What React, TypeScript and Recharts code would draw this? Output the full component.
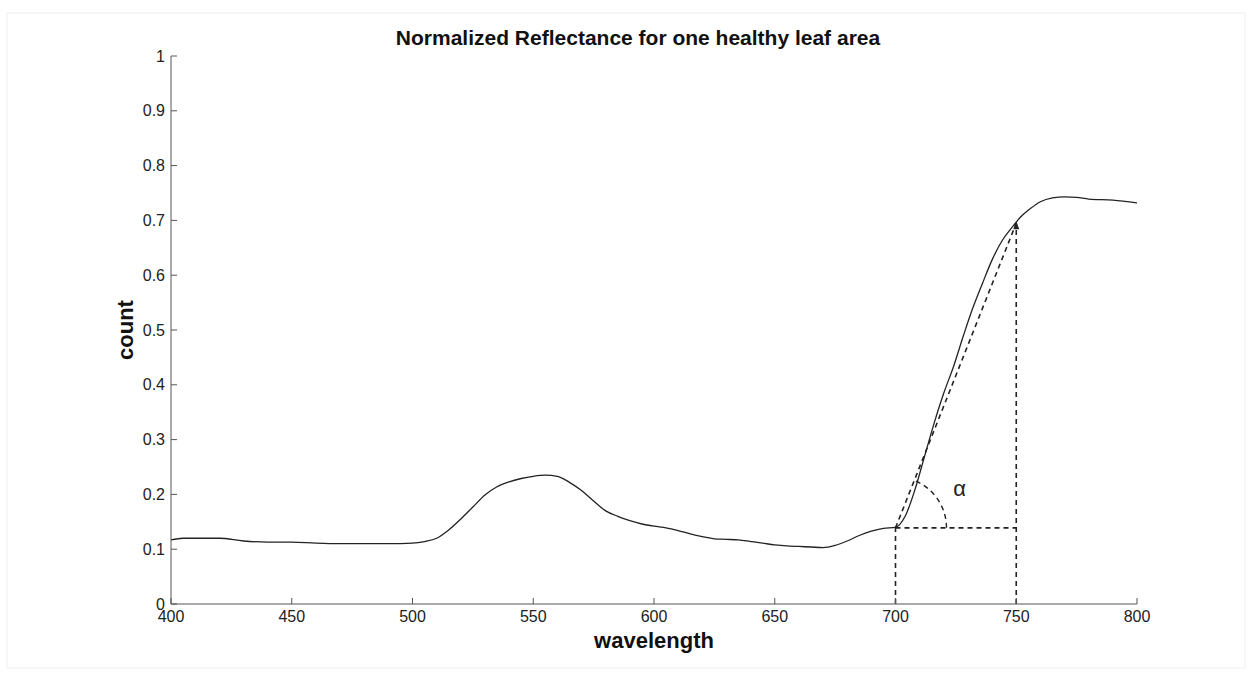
import {
  LineChart,
  Line,
  XAxis,
  YAxis,
  ReferenceLine,
  ReferenceDot,
} from "recharts";

// Leaf reflectance spectrum, normalized
const wavelengths = [
  400, 405, 410, 420, 430, 440, 450, 460, 470, 480, 490, 500, 505, 510, 515,
  520, 525, 530, 535, 540, 545, 550, 555, 560, 565, 570, 575, 580, 585, 590,
  595, 600, 605, 610, 615, 620, 625, 630, 635, 640, 645, 650, 655, 660, 665,
  670, 675, 680, 685, 690, 695, 700, 704, 708, 712, 716, 720, 724, 728, 732,
  736, 740, 744, 748, 752, 756, 760, 765, 770, 775, 780, 790, 800,
];
const reflectance = [
  0.117, 0.12, 0.12, 0.12, 0.115, 0.113, 0.113, 0.111, 0.11, 0.11, 0.11, 0.111,
  0.114, 0.12, 0.135, 0.155, 0.177, 0.199, 0.214, 0.223, 0.229, 0.233, 0.235,
  0.233, 0.222, 0.207, 0.188, 0.17, 0.16, 0.152, 0.146, 0.142, 0.139, 0.134,
  0.128, 0.123, 0.119, 0.118, 0.117, 0.114, 0.111, 0.108, 0.106, 0.105, 0.104,
  0.103, 0.107, 0.115, 0.125, 0.133, 0.138, 0.14, 0.16, 0.208, 0.269, 0.33,
  0.385, 0.433, 0.488, 0.54, 0.585, 0.628, 0.662, 0.686, 0.707, 0.722, 0.734,
  0.741, 0.743, 0.742, 0.739, 0.737, 0.732,
];

const xTicks = [400, 450, 500, 550, 600, 650, 700, 750, 800];
const yTicks = [0, 0.1, 0.2, 0.3, 0.4, 0.5, 0.6, 0.7, 0.8, 0.9, 1];

// red-edge slope construction
const edgeStart = { x: 700, y: 0.139 };
const edgeEnd = { x: 750, y: 0.695 };

const data = wavelengths.map((wl, i) => ({ wl, r: reflectance[i] }));

const W = 1251;
const H = 675;
const margin = { top: 56, right: 114, bottom: 41, left: 111 };
const Y_AXIS_W = 60;
const X_AXIS_H = 30;
const plotW = W - margin.left - Y_AXIS_W - margin.right;
const plotH = H - margin.top - margin.bottom - X_AXIS_H;

const font = "'Liberation Sans', Arial, sans-serif";
const ink = "#222";
const axisColor = "#555";
const dash = "5 4";

function AngleArc(props: any) {
  const { cx, cy } = props;
  if (cx == null || cy == null) return null;
  const dxPx = ((edgeEnd.x - edgeStart.x) / 400) * plotW;
  const dyPx = (edgeEnd.y - edgeStart.y) * plotH;
  const ang = Math.atan2(dyPx, dxPx);
  const r = 51;
  const ex = cx + r * Math.cos(ang);
  const ey = cy - r * Math.sin(ang);
  return (
    <g>
      <path
        d={`M ${cx + r} ${cy} A ${r} ${r} 0 0 0 ${ex} ${ey}`}
        fill="none"
        stroke={ink}
        strokeWidth={1.4}
        strokeDasharray={dash}
      />
      <text
        x={cx + 64}
        y={cy - 32}
        fontFamily={font}
        fontSize={22}
        fill={ink}
        textAnchor="middle"
      >
        α
      </text>
    </g>
  );
}

function ArrowTip(props: any) {
  const { cx, cy } = props;
  if (cx == null || cy == null) return null;
  return (
    <path d={`M ${cx} ${cy - 2} L ${cx - 3} ${cy + 6} L ${cx + 3} ${cy + 6} Z`} fill={ink} />
  );
}

export default function App() {
  return (
    <div style={{ position: "absolute", left: 0, top: 0, width: W, height: H, background: "#fff" }}>
      <svg width={W} height={H} style={{ position: "absolute", left: 0, top: 0 }}>
        <rect x={7} y={13} width={1238} height={655} fill="none" stroke="#eee" strokeWidth={1} />
        <text
          x={638}
          y={45}
          textAnchor="middle"
          fontFamily={font}
          fontWeight="bold"
          fontSize={21}
          fill="#111"
        >
          Normalized Reflectance for one healthy leaf area
        </text>
      </svg>
      <div style={{ position: "absolute", left: 0, top: 0 }}>
        <LineChart width={W} height={H} data={data} margin={margin}>
          <XAxis
            dataKey="wl"
            type="number"
            domain={[400, 800]}
            ticks={xTicks}
            interval={0}
            height={X_AXIS_H}
            tickSize={-6}
            tickMargin={13}
            stroke={axisColor}
            tick={{ fill: ink, fontSize: 16, fontFamily: font }}
            label={{
              value: "wavelength",
              position: "insideBottom",
              offset: -14,
              style: { fontFamily: font, fontSize: 22, fontWeight: "bold", fill: "#111" },
            }}
          />
          <YAxis
            type="number"
            domain={[0, 1]}
            ticks={yTicks}
            interval={0}
            width={Y_AXIS_W}
            tickSize={-6}
            tickMargin={12}
            stroke={axisColor}
            tickFormatter={(v: number) => String(Math.round(v * 10) / 10)}
            tick={{ fill: ink, fontSize: 16, fontFamily: font }}
            label={{
              value: "count",
              angle: -90,
              position: "insideLeft",
              offset: 14,
              style: { fontFamily: font, fontSize: 22, fontWeight: "bold", fill: "#111", textAnchor: "middle" },
            }}
          />
          <Line
            type="monotone"
            dataKey="r"
            stroke={ink}
            strokeWidth={1.3}
            dot={false}
            isAnimationActive={false}
          />
          <ReferenceLine
            segment={[{ x: edgeStart.x, y: 0 }, edgeStart]}
            stroke={ink}
            strokeWidth={1.6}
            strokeDasharray={dash}
          />
          <ReferenceLine
            segment={[{ x: edgeEnd.x, y: 0 }, edgeEnd]}
            stroke={ink}
            strokeWidth={1.6}
            strokeDasharray={dash}
          />
          <ReferenceLine
            segment={[edgeStart, { x: edgeEnd.x, y: edgeStart.y }]}
            stroke={ink}
            strokeWidth={1.6}
            strokeDasharray={dash}
          />
          <ReferenceLine
            segment={[edgeStart, edgeEnd]}
            stroke={ink}
            strokeWidth={1.6}
            strokeDasharray={dash}
          />
          <ReferenceDot x={edgeStart.x} y={edgeStart.y} shape={AngleArc} />
          <ReferenceDot x={edgeEnd.x} y={edgeEnd.y} shape={ArrowTip} />
        </LineChart>
      </div>
    </div>
  );
}
